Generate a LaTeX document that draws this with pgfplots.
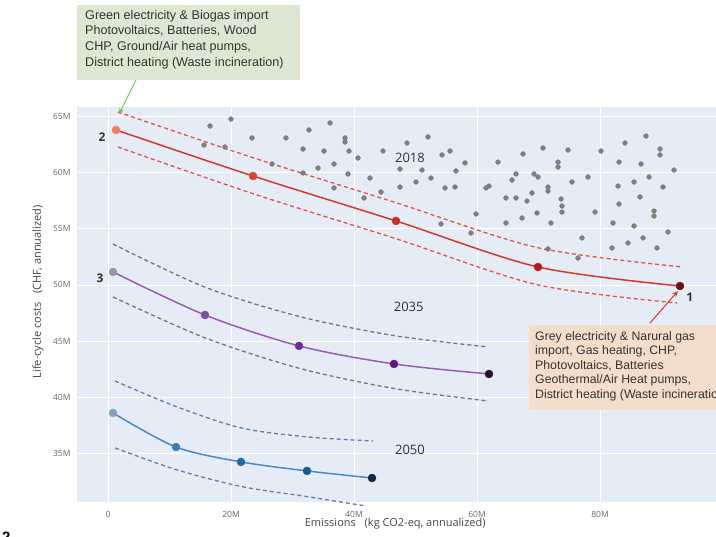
\documentclass[border=0pt]{standalone}
\usepackage{pgfplots}
\pgfplotsset{compat=1.18}
\usepackage{fontspec}
\setmainfont{Liberation Sans}
\newfontfamily\opensans{Open Sans}
\usetikzlibrary{arrows.meta}
\definecolor{bgc}{HTML}{E6ECF5}
\definecolor{tickc}{HTML}{666666}
\definecolor{labc}{HTML}{444444}
\definecolor{grayc}{HTML}{7F7F7F}
\definecolor{redline}{HTML}{D2392F}
\definecolor{reddash}{HTML}{E0524A}
\definecolor{rA}{HTML}{F07F5C}
\definecolor{rB}{HTML}{D9452F}
\definecolor{rC}{HTML}{C8302A}
\definecolor{rD}{HTML}{B01E22}
\definecolor{rE}{HTML}{6E0F14}
\definecolor{purline}{HTML}{9A5BB5}
\definecolor{purdash}{HTML}{7A6D95}
\definecolor{pA}{HTML}{9C93B5}
\definecolor{pB}{HTML}{7E4BA0}
\definecolor{pC}{HTML}{6E2C8E}
\definecolor{pD}{HTML}{5E1A7E}
\definecolor{pE}{HTML}{2A0E3A}
\definecolor{bluline}{HTML}{4A8ACB}
\definecolor{bludash}{HTML}{5C80B0}
\definecolor{bA}{HTML}{7FA3BC}
\definecolor{bB}{HTML}{3C7FB4}
\definecolor{bC}{HTML}{2468A5}
\definecolor{bD}{HTML}{1C5A8E}
\definecolor{bE}{HTML}{0E2A40}
\definecolor{greenbox}{HTML}{DDE8D2}
\definecolor{orangebox}{HTML}{F4DDCB}
\definecolor{greenarrow}{HTML}{7FBF5F}
\definecolor{boxtext}{HTML}{333333}
\begin{document}
\begin{tikzpicture}
\useasboundingbox (0,0) rectangle (716pt,537pt);
\begin{axis}[
  at={(77pt,35pt)}, anchor=south west,
  scale only axis, width=639pt, height=395pt,
  xmin=-5.04, xmax=98.86, ymin=30.72, ymax=65.8,
  axis background/.style={fill=bgc},
  axis line style={draw=none},
  major tick length=0pt,
  xtick={0,20,40,60,80}, xticklabels={0,20M,40M,60M,80M},
  ytick={35,40,45,50,55,60,65}, yticklabels={35M,40M,45M,50M,55M,60M,65M},
  grid=major, major grid style={white, line width=0.7pt},
  tick label style={font=\opensans\fontsize{8.5}{9}\selectfont, text=tickc},
  xticklabel style={yshift=-6pt},
  yticklabel style={xshift=-3pt},
  xlabel={Emissions\hspace{0.8em}(kg CO2-eq, annualized)},
  ylabel={Life-cycle costs\hspace{0.8em}(CHF, annualized)},
  label style={font=\opensans\fontsize{11}{13}\selectfont, text=labc},
  xlabel style={at={(axis description cs:0.498,-0.0557)}, anchor=center},
  ylabel style={at={(axis description cs:-0.061,0.532)}, anchor=center},
  clip=false,
]
% 2018 cloud of gray points
\addplot[only marks, mark=*, mark size=2.4pt, color=grayc] table {
x y
16.59 64.11
20.00 64.73
23.41 63.05
15.61 62.42
19.02 62.25
28.94 63.05
32.68 63.76
36.10 64.38
38.54 63.05
38.54 62.69
31.71 62.07
35.12 61.89
39.19 61.89
40.65 61.27
26.67 60.74
34.15 60.38
36.75 60.74
31.71 59.94
39.02 59.85
36.75 58.61
44.72 61.89
48.62 62.60
52.03 63.14
47.48 60.29
51.06 60.20
54.31 61.54
55.61 61.89
58.05 60.83
42.60 59.49
50.08 59.14
52.52 59.49
47.48 58.69
56.58 60.12
54.80 58.61
56.42 58.69
61.46 58.61
61.95 58.78
63.41 60.91
67.48 61.63
66.34 59.85
65.69 59.32
41.63 57.72
44.39 58.25
64.71 57.72
66.34 57.72
68.13 57.45
68.94 58.16
59.84 56.30
54.15 55.41
64.71 55.50
67.32 55.94
59.02 54.61
70.73 62.16
74.80 61.98
80.16 61.89
84.06 62.60
87.48 63.22
89.76 62.07
89.76 61.54
73.17 60.91
73.17 60.47
83.09 60.91
86.67 60.74
92.03 60.20
69.27 59.85
69.92 59.58
78.05 59.58
75.45 59.14
71.54 58.69
71.54 58.34
82.93 58.78
85.53 59.14
87.97 59.58
90.24 58.69
73.66 57.63
73.82 57.01
73.82 56.47
83.09 57.18
86.50 57.81
79.19 56.47
88.78 56.56
88.78 56.12
69.76 56.39
72.03 55.50
82.11 55.50
85.53 55.23
91.06 54.70
77.07 54.17
86.99 54.17
84.55 53.72
81.95 53.28
89.27 53.28
71.54 53.19
76.42 52.39
};
% 2018 frontier
\addplot[reddash, line width=1.3pt, dash pattern=on 4pt off 3pt, smooth] coordinates {(1.6,65.36) (23.58,61.3) (46.83,57.3) (69.92,53.3) (93.3,51.6)};
\addplot[reddash, line width=1.3pt, dash pattern=on 4pt off 3pt, smooth] coordinates {(1.6,62.25) (23.58,58.1) (46.83,54.1) (69.92,50.0) (92.5,48.4)};
\addplot[redline, line width=1.5pt, smooth] coordinates {(1.3,63.76) (23.58,59.67) (46.83,55.68) (69.92,51.59) (93.0,49.9)};
\addplot[only marks, mark=*, mark size=4pt, color=rA] coordinates {(1.3,63.76)};
\addplot[only marks, mark=*, mark size=4pt, color=rB] coordinates {(23.58,59.67)};
\addplot[only marks, mark=*, mark size=4pt, color=rC] coordinates {(46.83,55.68)};
\addplot[only marks, mark=*, mark size=4pt, color=rD] coordinates {(69.92,51.59)};
\addplot[only marks, mark=*, mark size=4pt, color=rE] coordinates {(93.0,49.9)};
% 2035 frontier
\addplot[purdash, line width=1.3pt, dash pattern=on 4pt off 3pt, smooth] coordinates {(0.81,53.63) (15.77,49.8) (31.06,47.2) (46.5,45.5) (61.8,44.49)};
\addplot[purdash, line width=1.3pt, dash pattern=on 4pt off 3pt, smooth] coordinates {(0.81,48.93) (15.77,45.3) (31.06,42.6) (46.5,40.8) (61.8,39.69)};
\addplot[purline, line width=1.5pt, smooth] coordinates {(0.81,51.15) (15.77,47.33) (31.06,44.58) (46.5,42.98) (61.95,42.09)};
\addplot[only marks, mark=*, mark size=4pt, color=pA] coordinates {(0.81,51.15)};
\addplot[only marks, mark=*, mark size=4pt, color=pB] coordinates {(15.77,47.33)};
\addplot[only marks, mark=*, mark size=4pt, color=pC] coordinates {(31.06,44.58)};
\addplot[only marks, mark=*, mark size=4pt, color=pD] coordinates {(46.5,42.98)};
\addplot[only marks, mark=*, mark size=4pt, color=pE] coordinates {(61.95,42.09)};
% 2050 frontier
\addplot[bludash, line width=1.3pt, dash pattern=on 4pt off 3pt, smooth] coordinates {(1.14,41.47) (11.06,39.2) (21.63,37.3) (32.36,36.5) (43.1,36.14)};
\addplot[bludash, line width=1.3pt, dash pattern=on 4pt off 3pt, smooth] coordinates {(1.14,35.52) (11.06,33.6) (21.63,32.1) (32.36,31.2) (41.5,30.4)};
\addplot[bluline, line width=1.5pt, smooth] coordinates {(0.81,38.63) (11.06,35.6) (21.63,34.28) (32.36,33.48) (42.93,32.85)};
\addplot[only marks, mark=*, mark size=4pt, color=bA] coordinates {(0.81,38.63)};
\addplot[only marks, mark=*, mark size=4pt, color=bB] coordinates {(11.06,35.6)};
\addplot[only marks, mark=*, mark size=4pt, color=bC] coordinates {(21.63,34.28)};
\addplot[only marks, mark=*, mark size=4pt, color=bD] coordinates {(32.36,33.48)};
\addplot[only marks, mark=*, mark size=4pt, color=bE] coordinates {(42.93,32.85)};
% labels
\node[font=\opensans\fontsize{13}{15}\selectfont, text=boxtext] at (axis cs:49.1,61.27) {2018};
\node[font=\opensans\fontsize{13}{15}\selectfont, text=boxtext] at (axis cs:48.9,48.04) {2035};
\node[font=\opensans\fontsize{13}{15}\selectfont, text=boxtext] at (axis cs:49.1,35.34) {2050};
\node[font=\opensans\bfseries\fontsize{12}{14}\selectfont, text=boxtext] at (axis cs:-0.98,63.14) {2};
\node[font=\opensans\bfseries\fontsize{12}{14}\selectfont, text=boxtext] at (axis cs:-1.3,50.6) {3};
\node[font=\opensans\bfseries\fontsize{12}{14}\selectfont, text=boxtext] at (axis cs:94.6,48.93) {1};
\end{axis}
% green annotation
\fill[greenbox] (77pt,457pt) rectangle (300pt,532pt);
\node[anchor=north west, align=left, inner sep=0pt, text=boxtext,
  font=\fontsize{12.6}{15.6}\selectfont] at (85pt,527pt)
  {Green electricity \& Biogas import\\Photovoltaics, Batteries, Wood\\CHP, Ground/Air heat pumps,\\District heating (Waste incineration)};
\draw[greenarrow, line width=1pt, -{Stealth[length=6pt,width=5pt]}] (136pt,457pt) -- (119pt,423pt);
% orange annotation
\fill[orangebox] (529pt,127pt) rectangle (760pt,212pt);
\node[anchor=north west, align=left, inner sep=0pt, text=boxtext,
  font=\fontsize{12.3}{14.6}\selectfont] at (535pt,206pt)
  {Grey electricity \& Narural gas\\import, Gas heating, CHP,\\Photovoltaics, Batteries\\Geothermal/Air Heat pumps,\\District heating (Waste incineration)};
\draw[redline, line width=1pt, -{Stealth[length=6pt,width=5pt]}] (650pt,214pt) -- (678pt,246pt);
% stray figure number
\node[anchor=base west, inner sep=0pt, font=\bfseries\fontsize{15}{17}\selectfont] at (2pt,-6pt) {2};
\end{tikzpicture}
\end{document}
